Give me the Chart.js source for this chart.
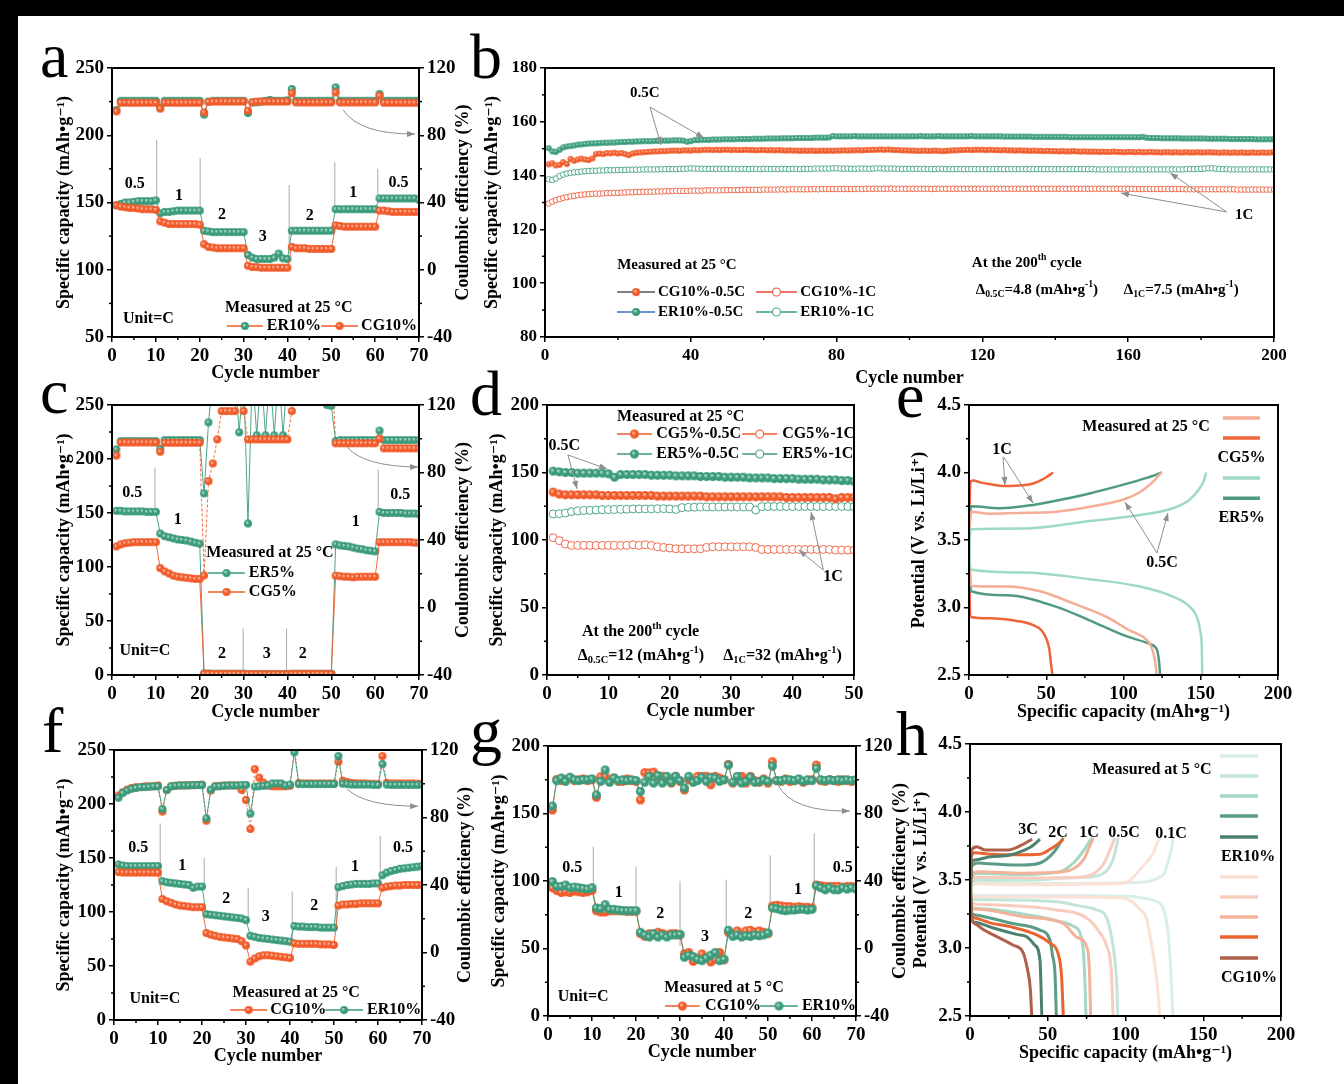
<!DOCTYPE html>
<html><head><meta charset="utf-8">
<script src="https://cdn.jsdelivr.net/npm/chart.js@4.4.1/dist/chart.umd.min.js"></script>
<style>
html,body{margin:0;padding:0;background:#fff;}
body{width:1344px;height:1084px;position:relative;overflow:hidden;}
.band{position:absolute;background:#000;}
canvas{position:absolute;}
.lt{position:absolute;font-family:'Liberation Serif','DejaVu Serif',serif;font-size:64px;line-height:1;color:#000;}
</style></head><body>
<div class="band" style="left:0;top:0;width:1344px;height:16px"></div>
<div class="band" style="left:0;top:0;width:18px;height:1084px"></div>
<div class="lt" style="left:40px;top:24px">a</div>
<div class="lt" style="left:470px;top:25px">b</div>
<div class="lt" style="left:40px;top:360px">c</div>
<div class="lt" style="left:470px;top:362px">d</div>
<div class="lt" style="left:896px;top:364px">e</div>
<div class="lt" style="left:42px;top:699px">f</div>
<div class="lt" style="left:470px;top:699px">g</div>
<div class="lt" style="left:896px;top:702px">h</div>
<script>
// ---------------- DATA ----------------
// Panel a: rate capability at 25 °C (ER10% vs CG10%)
const a_ER_cap=[148,149,150,150,150.5,151,151,151,151,151.5,142,143,143,143.5,144,144,144,144,144,144,129,128.5,128,128,128,128,128,128,128,128,111,109,108,108,108,108,109,112,108.5,108,129,129,129,129,129,129,129,129,129,129,145,145,145,145,145,145,145,145,145,145,153,153,153,153,153,153,153,153,153,152];
const a_CG_cap=[148,147,146.5,146,146,145.5,145,145,145,144.5,136,135,134,134,134,134,134,134,134,133.5,119,117,116.5,116,116,116,116,116,116,116,103,102,102,101.5,101.5,101.5,101.5,101.5,101.5,101.5,117,116,116,116,115.5,115.5,115.5,115.5,115.5,115.5,133,132.5,132,132,132,132,132,132,132,132,144,144,143.5,143,143,143,143,143,143,143];
const a_ER_ce=[95,100.5,100.5,100.5,100.5,100.5,100.5,100.5,100.5,100.5,96.5,100.5,100.5,100.5,100.5,100.5,100.5,100.5,100.5,100.5,92.3,100,100.5,100.5,100.5,100.5,100.5,100.5,100.5,100.5,93.2,99.5,99.6,100,100.5,101,100.5,100.5,100.5,100.8,107.5,100.5,100.5,100.5,100.5,100.5,100.5,100.5,100.5,100.5,108.5,100.5,100.5,100.5,100.5,100.5,100.5,100.5,100.5,100.5,104.5,100.5,100.5,100.5,100.5,100.5,100.5,100.5,100.5,100.5];
const a_CG_ce=[94.2,99.3,99.3,99.3,99.3,99.3,99.3,99.3,99.3,99.3,95.8,99.3,99.3,99.3,99.3,99.3,99.3,99.3,99.3,99.3,93.6,99.8,100,100,100,100,100,100,100,100,94.6,99.6,100,100,100,100,100,100,100,100,105,99.5,99.5,99.5,99.5,99.5,99.5,99.5,99.5,99.5,105.5,99.5,99.5,99.5,99.5,99.5,99.5,99.5,99.5,99.5,103.5,99.3,99.3,99.3,99.3,99.3,99.3,99.3,99.3,99.3];
// Panel b: 200 cycles
const b_CG05=[144.2,144.6,143.8,144.0,145.0,144.3,146.2,145.5,146.0,146.3,146.0,145.8,146.4,148.0,148.2,148.0,148.4,148.3,148.5,148.2,148.4,148.0,147.6,148.2,148.5,148.6,148.7,148.8,148.9,149.0,149.0,149.1,149.1,149.2,149.3,149.3,149.2,149.4,149.4,149.3,149.5,149.4,149.5,149.6,149.6,149.5,149.6,149.5,149.6,149.6,149.5,149.6,149.5,149.5,149.6,149.5,149.5,149.4,149.5,149.5,149.4,149.5,149.4,149.5,149.4,149.3,149.4,149.3,149.3,149.2,149.3,149.2,149.3,149.2,149.2,149.3,149.2,149.3,149.2,149.3,149.3,149.4,149.3,149.4,149.4,149.5,149.4,149.5,149.5,149.6,149.6,149.7,149.6,149.7,149.6,149.5,149.5,149.4,149.4,149.3,149.3,149.2,149.2,149.3,149.2,149.2,149.3,149.2,149.1,149.2,149.3,149.4,149.4,149.5,149.5,149.6,149.5,149.6,149.6,149.6,149.5,149.6,149.5,149.5,149.4,149.5,149.4,149.4,149.3,149.4,149.3,149.3,149.2,149.3,149.2,149.2,149.1,149.2,149.1,149.1,149.0,149.1,149.0,149.0,149.1,149.0,148.9,149.0,148.9,148.9,148.9,148.8,148.9,148.8,148.8,148.9,148.8,148.8,148.7,148.8,148.8,148.7,148.8,148.7,148.7,148.8,148.7,148.7,148.6,148.7,148.7,148.6,148.7,148.6,148.6,148.7,148.6,148.6,148.7,148.6,148.6,148.7,148.6,148.6,148.5,148.6,148.6,148.5,148.6,148.5,148.6,148.5,148.5,148.6,148.5,148.5,148.6,148.5,148.6,148.7];
const b_ER05=[150.2,149.0,148.8,149.6,150.5,150.8,151.0,151.2,151.5,151.6,151.8,151.9,152.0,152.0,152.1,152.2,152.2,152.3,152.3,152.4,152.5,152.5,152.6,152.6,152.7,152.7,152.8,152.8,152.8,152.9,152.9,153.0,153.0,153.0,153.1,153.1,153.1,153.0,152.6,152.8,153.2,153.2,153.3,153.3,153.3,153.4,153.4,153.4,153.5,153.5,153.5,153.5,153.6,153.6,153.6,153.6,153.7,153.7,153.7,153.7,153.8,153.8,153.8,153.8,153.9,153.9,153.9,153.9,154.0,154.0,154.0,154.0,154.0,154.1,154.1,154.1,154.1,154.2,154.7,154.6,154.6,154.6,154.6,154.6,154.7,154.6,154.6,154.6,154.6,154.6,154.6,154.6,154.6,154.6,154.6,154.6,154.6,154.6,154.6,154.6,154.6,154.6,154.7,154.6,154.6,154.6,154.6,154.7,154.6,154.6,154.6,154.6,154.6,154.6,154.6,154.6,154.7,154.6,154.6,154.6,154.6,154.6,154.6,154.6,154.6,154.5,154.5,154.5,154.5,154.5,154.5,154.5,154.5,154.4,154.4,154.4,154.4,154.4,154.4,154.4,154.4,154.4,154.4,154.3,154.3,154.3,154.3,154.3,154.3,154.3,154.3,154.3,154.3,154.3,154.3,154.3,154.3,154.3,154.3,154.3,154.3,154.3,154.3,154.4,154.1,154.0,154.0,154.0,153.9,153.9,153.9,153.9,153.9,153.9,153.8,153.8,153.8,153.8,153.8,153.8,153.8,153.7,153.7,153.7,153.7,153.7,153.7,153.6,153.6,153.6,153.6,153.6,153.6,153.6,153.5,153.5,153.5,153.5,153.5,153.5,153.5];
const b_CG1=[129.6,130.3,130.9,131.3,131.7,132.0,132.3,132.5,132.7,132.9,133.0,133.1,133.2,133.3,133.3,133.4,133.5,133.5,133.6,133.6,133.7,133.7,133.8,133.8,133.9,133.9,134.0,134.0,134.0,134.1,134.1,134.1,134.2,134.2,134.2,134.3,134.3,134.3,134.3,134.4,134.4,134.4,134.4,134.5,134.5,134.5,134.5,134.5,134.6,134.6,134.6,134.6,134.6,134.7,134.7,134.7,134.7,134.7,134.7,134.8,134.8,134.8,134.8,134.8,134.9,134.8,134.9,134.9,134.9,134.9,134.9,134.9,134.9,135.0,134.9,135.0,135.0,135.0,135.0,135.0,135.0,135.0,135.0,135.0,135.0,135.1,135.0,135.1,135.1,135.1,135.1,135.1,135.1,135.1,135.2,135.1,135.1,135.1,135.1,135.1,135.1,135.1,135.1,135.1,135.1,135.0,135.1,135.1,135.1,135.1,135.1,135.1,135.1,135.1,135.1,135.1,135.1,135.1,135.1,135.1,135.1,135.1,135.1,135.1,135.1,135.1,135.1,135.1,135.1,135.1,135.1,135.1,135.1,135.1,135.1,135.1,135.1,135.1,135.1,135.1,135.1,135.1,135.1,135.1,135.1,135.1,135.1,135.1,135.1,135.1,135.1,135.1,135.1,135.1,135.1,135.1,135.1,135.1,135.1,135.1,135.1,135.0,135.0,135.0,135.0,135.0,135.0,135.0,135.0,135.0,135.0,135.0,135.0,135.0,135.0,134.9,134.9,134.9,134.9,134.9,134.9,134.9,134.9,134.9,134.9,134.9,134.9,134.9,134.9,134.8,134.8,134.8,134.8,134.8,134.8,134.8,134.8,134.8,134.8,134.8];
const b_ER1=[138.6,138.4,138.9,139.8,140.4,140.8,141.0,141.2,141.3,141.5,141.6,141.7,141.8,141.8,141.9,141.9,142.0,142.0,142.0,142.1,142.1,142.1,142.2,142.2,142.2,142.2,142.3,142.3,142.3,142.3,142.3,142.4,142.4,142.4,142.4,142.4,142.5,142.5,142.6,142.7,142.6,142.6,142.5,142.5,142.5,142.5,142.5,142.5,142.5,142.5,142.5,142.5,142.4,142.5,142.5,142.4,142.5,142.5,142.4,142.5,142.5,142.4,142.5,142.4,142.5,142.5,142.4,142.5,142.5,142.4,142.5,142.5,142.5,142.6,142.6,142.6,142.6,142.6,142.7,142.7,142.6,142.6,142.6,142.5,142.5,142.6,142.6,142.6,142.5,142.6,142.7,142.7,142.6,142.6,142.6,142.6,142.5,142.5,142.5,142.5,142.5,142.5,142.5,142.5,142.4,142.4,142.4,142.5,142.5,142.4,142.4,142.4,142.4,142.4,142.4,142.4,142.4,142.4,142.4,142.4,142.4,142.4,142.4,142.4,142.4,142.4,142.4,142.4,142.4,142.4,142.4,142.4,142.4,142.4,142.4,142.4,142.4,142.4,142.4,142.4,142.4,142.4,142.4,142.4,142.4,142.4,142.4,142.4,142.4,142.4,142.3,142.3,142.3,142.3,142.3,142.3,142.3,142.3,142.3,142.3,142.3,142.3,142.3,142.3,142.3,142.3,142.3,142.3,142.3,142.3,142.3,142.3,142.3,142.3,142.3,142.4,142.4,142.4,142.5,142.5,142.6,142.7,142.7,142.6,142.5,142.4,142.4,142.3,142.3,142.3,142.3,142.3,142.3,142.3,142.3,142.3,142.3,142.3,142.3,142.3];
// Panel c: ER5% vs CG5%
const c_ER_cap=[152,152,151.5,151.5,151.5,151.5,151.5,151,151,151,131,128.5,127.5,126.5,125.5,125,124.5,123.5,122.5,121.5,1.5,1.5,1.2,1.2,1.2,1.2,1.2,1.2,1.2,1.2,1,1,1,1,1,1,1,1,1,1,1.2,1.2,1.2,1.2,1.2,1.2,1.2,1.2,1.2,1.2,121,120,119.5,119,118,117,116.5,115.5,115,114.5,151,150,150,150,150,150,149.5,149.5,149.5,149];
const c_CG_cap=[119,121,122,122.5,123,123,123,123,123,123,99,96,94,92,91,90.5,90,89.5,89,89,1,1,1,1,1,1,1,1,1,1,0.8,0.8,0.8,0.8,0.8,0.8,0.8,0.8,0.8,0.8,1,1,1,1,1,1,1,1,1,1,92,91.5,91,91,90.5,91,91,91,91,91,123,123,123,123,123,123,123,123,122.5,122.5];
const c_ER_ce=[93.7,98.6,98.6,98.6,98.6,98.6,98.6,98.6,98.6,98.6,94,99.2,99.2,99.2,99.2,99.2,99.2,99.2,99.2,99.2,67.6,109.7,135,150,150,150,150,140,103.8,140,49.8,140,102,140,102,140,102,140,102,140,150,150,150,150,150,150,150,150,120,119.5,98.6,99.2,99.2,99.2,99.2,99.2,99.2,99.2,99.2,99.2,104.8,99.2,99.2,99.2,99.2,99.2,99.2,99.2,99.2,99.2];
const c_CG_ce=[90,97.8,97.8,97.8,97.8,97.8,97.8,97.8,97.8,97.8,92.3,97.6,97.6,97.6,97.6,97.6,97.6,97.6,97.6,97.6,19,74.9,85.4,99.6,116.4,116.4,116.4,116.4,150,116.4,99.6,99.6,99.6,99.6,99.6,99.6,99.6,99.6,99.6,99.6,116.4,150,150,150,150,150,150,150,150,150,97.3,97.3,97.3,97.3,97.3,97.3,97.3,97.3,97.3,97.3,100,94.3,94.3,94.3,94.3,94.3,94.3,94.3,94.3,94.3];
// Panel d: 50 cycles
const d_ER05=[151,150.5,150,150,149.5,149.5,149.5,149.5,149.5,149,146.5,148.5,148.5,148.5,148.5,148.5,148,148,148,148,147.5,147.5,147.5,147.5,147,147,147,147,146.5,146.5,146.5,146.5,146,146,146,146,145.5,145.5,145.5,145.5,145,145,145,145,144.5,144.5,144.5,144,144,143.5];
const d_CG05=[135.5,134,133.5,133.5,133.5,133.5,133.5,133.5,133,133,133,133,133,133,133,133,133,132.5,132.5,132.5,132.5,132.5,132.5,132.5,132.5,132,132,132,132,132,132,132,132,132,132,132,132,132,131.5,131.5,131.5,131.5,131.5,131.5,131.5,131.5,130.5,131.5,131.5,131.5];
const d_ER1=[119.3,119.5,120,121,121.5,121.8,122,122.2,122.4,122.5,122.6,122.7,122.8,123,123,123,123,123.2,123.2,123,122.6,124,124.2,124.3,124.5,124.5,124.5,124.5,124.5,124.5,124.5,124.5,124.5,122.2,124.7,124.8,124.8,124.8,124.8,124.8,124.8,124.8,124.8,124.8,124.8,124.8,124.8,124.8,124.8,124.7];
const d_CG1=[101.7,99.5,97,96,96,96,96,96,96,96,96,96,96,96.5,96,96.5,96,95,94.5,94,93.5,93.5,93.5,93.5,93.5,94.5,95,95,95,95,95,95,95,94.5,93,93,93,93,93,93,93,93,93,93,93,93,92.5,92.5,92.5,92.5];
// Panel e: voltage profiles [capacity, potential]
const e_CG1_chg=[[0,2.95],[0.4,3.7],[1,3.93],[2.6,3.94],[8,3.925],[13,3.915],[23,3.90],[35,3.905],[42,3.92],[46,3.94],[50,3.965],[54.5,4.0]];
const e_CG1_dis=[[0,3.93],[0.4,3.1],[1,2.93],[13,2.92],[31,2.90],[41.5,2.87],[47,2.83],[50,2.77],[52,2.69],[53,2.59],[54,2.5]];
const e_CG05_chg=[[0,3.15],[0.5,3.6],[1.5,3.71],[13,3.695],[30,3.70],[56.6,3.71],[80,3.75],[100,3.80],[110,3.85],[119,3.93],[123.7,3.99],[124.5,4.0]];
const e_CG05_dis=[[0,3.7],[0.5,3.3],[1.5,3.16],[24,3.155],[46,3.12],[67.5,3.03],[89,2.93],[104,2.83],[114,2.77],[118,2.71],[120.5,2.6],[121.5,2.5]];
const e_ER1_chg=[[0,3.1],[0.5,3.6],[1.5,3.75],[20,3.735],[41.5,3.76],[60,3.80],[78,3.845],[100,3.91],[115,3.96],[124.8,4.0]];
const e_ER1_dis=[[0,3.74],[0.5,3.3],[1.5,3.12],[24,3.09],[56.6,3.005],[78,2.905],[100,2.795],[117,2.73],[121.5,2.69],[123,2.6],[123.7,2.5]];
const e_ER05_chg=[[0,3.27],[0.5,3.5],[1.5,3.58],[35,3.585],[78,3.64],[110.7,3.685],[132,3.735],[143,3.80],[148.5,3.87],[152,3.94],[153.5,4.0]];
const e_ER05_dis=[[0,3.58],[0.5,3.35],[1.5,3.28],[35,3.26],[78,3.21],[110.7,3.155],[132,3.08],[143,3.005],[147.5,2.93],[149.6,2.83],[150.7,2.69],[151,2.5]];
// Panel f: ER10% vs CG10% at 25 °C
const f_CG_cap=[137,136.5,136.5,136.5,136.5,136.5,136.5,136.5,136.5,136.5,112,110,108.5,107,106,105.5,105,104.5,104.5,104.5,80.5,79,78,77,76.5,76,75.5,75,73,69,54,57,59,60,60,59.5,59,58.5,58,57.5,71,70.5,70.5,70.5,70.5,70.5,70,70,70,69.5,106,107,107,107.5,107.5,108,108,108,108,108,122.5,123.5,124,124.5,124.5,125,125,125,125,125];
const f_ER_cap=[144,143,142.5,142.5,142.5,142.5,142.5,142.5,142.5,142.5,128.5,127.5,127,126.5,126,125.5,125,122.5,123.5,123.5,98,97.5,97,96.5,96,95.5,95,94.5,94,92.5,78,77,76,75.5,75,74.5,74,73.5,73,72.5,87,86.5,86.5,86,86,86,85.5,85.5,85.5,85.5,123,124,125,125.5,126,126,126,126,126.5,126.5,134,136.5,138,139,140,140.5,141,141.5,142,142.5];
const f_CG_ce=[93,95,96.5,97.5,98,98,98.5,98.5,98.5,99,83.5,96.3,98.5,98.8,99,99,99.2,99.2,99.3,99.5,78.1,96,98.5,98.8,99,99,99,99,96.3,90.4,73.2,108.7,103.6,100.6,99,98.5,98.5,98.5,98.5,98.8,121,100.5,100.2,100.2,100.2,100.2,100.2,100.2,100.2,100.2,113,101.8,101,100.5,100.3,100.2,100.2,100,100,99.8,116.4,100.5,100.2,100.2,100.2,100.2,100.2,100.2,100,100];
const f_ER_ce=[91.7,94.5,96,97,97.5,98,98,98.2,98.5,98.5,85,96.3,98.5,98.8,99,99,99,99.2,99.2,99.2,79.5,96.5,98.5,98.5,98.8,99,99,99,99.2,99.3,82.3,98.3,98.5,98.8,99,100.2,100.2,100.2,99,99.5,118.6,99.8,99.8,99.8,99.8,99.8,99.8,99.8,99.8,99.8,116.4,100,99.8,99.5,99.5,99.5,99.5,99.5,99.3,99.3,111.7,99.5,99.3,99.3,99.3,99.3,99.3,99.3,99.3,99.3];
// Panel g: measured at 5 °C
const g_CG_cap=[95,93,91.5,92,91.5,92.5,92,91.5,92,93,78,77,77,78,78,78,78,77.5,77.5,77.5,61,59,61,60,62,61,60,61,61,60,46,47,40.5,42,46,43,40,42,47,41.5,62,61,63,60,63,63.5,62,63,62,61,81.5,82,81.5,81,81,80.5,81,80.5,80.5,80,97,96.5,96,96,96,96,95.5,96,96,95.5];
const g_ER_cap=[99.5,96,96,97,95,95.5,95,94.5,94,95,80,79.5,82.5,79,79,78.5,78,78,78,78,62,60,58.5,61,58.5,60,58.5,60,60,60.5,43.5,45,44,42,41,43,45,47,41,42,63.5,59,60,58.5,59.5,59,60,59.5,60,61.5,80,79.5,78.5,78,78.5,78.5,79,79,78.5,79,96.5,95,93.5,95,93.5,93.5,95,94,95,94];
const g_CG_ce=[82.1,100.2,99.5,100,101,99.5,100,100.5,99.5,100,89.6,101.8,102,99,101,99,99,100.5,99.5,99,88,104.2,104,104.5,100,102,100.5,98,102,99,93.9,100,99,102,102,102,97,102,101,100,109.1,98,100,102,98,102,99.5,98.5,100.5,98,110.7,99.5,99,100.5,99,99.5,100,98.5,99.5,100,108.7,99.5,99,100,99.5,99,100,99.5,99,99.5];
const g_ER_ce=[84.4,99.5,101,99,101.5,100,99.5,100,100,100.5,91,99,105.8,98.5,101,99.5,100,99.5,100,99.5,93,98.5,102,98,102.5,98,102,98.5,102,99.5,95,102,98.5,99.5,101.5,99,101.5,101,99,100,108.7,98.5,102,98,99,101.5,98.5,99,100,99,108.1,99.5,99.5,100,100,99.5,100.5,99,100,99.5,106.8,100,99.5,100,99.5,100,99.5,100,99.5,100];
// Panel h: voltage profiles at 5 °C
const h_ER01_chg=[[0,3.25],[1,3.45],[3,3.49],[20,3.48],[60,3.475],[100,3.48],[115,3.49],[122,3.52],[125,3.55],[127,3.62],[129,3.7],[130.8,3.81]];
const h_ER01_dis=[[0,3.48],[1,3.40],[5,3.385],[60,3.385],[98.6,3.383],[110,3.37],[120,3.34],[124,3.30],[126,3.22],[127.5,3.10],[128.5,2.95],[129.5,2.75],[130.5,2.5]];
const h_CG01_chg=[[0,3.25],[1,3.44],[3,3.47],[40,3.465],[80,3.47],[100,3.48],[105,3.52],[111,3.6],[118,3.7],[120,3.76],[121.8,3.81]];
const h_CG01_dis=[[0,3.47],[1,3.39],[5,3.375],[60,3.375],[95,3.37],[103,3.35],[108,3.3],[113.6,3.21],[117,3.01],[120,2.77],[122.2,2.5]];
const h_ER05_chg=[[0,3.3],[1,3.48],[5,3.50],[40,3.50],[60,3.515],[81.5,3.53],[88,3.57],[92,3.65],[95.4,3.81]];
const h_ER05_dis=[[0,3.45],[1,3.36],[5,3.355],[55.7,3.34],[70,3.31],[81.5,3.28],[88,3.22],[91,3.08],[93.2,2.91],[94.5,2.7],[95,2.5]];
const h_CG05_chg=[[0,3.3],[1,3.5],[5,3.52],[40,3.515],[70,3.52],[80,3.55],[86,3.62],[90,3.72],[93.2,3.81]];
const h_CG05_dis=[[0,3.4],[1,3.33],[5,3.32],[55.7,3.28],[75,3.22],[83.6,3.11],[88,3.01],[91,2.81],[92,2.5]];
const h_ER1_chg=[[0,3.3],[1,3.52],[5,3.55],[34,3.54],[50,3.55],[60,3.57],[68.6,3.65],[75,3.75],[78.2,3.81]];
const h_ER1_dis=[[0,3.4],[1,3.30],[5,3.29],[34,3.25],[55.7,3.2],[66.5,3.16],[70.7,3.11],[73,2.96],[74,2.72],[74.6,2.5]];
const h_CG1_chg=[[0,3.3],[1,3.54],[5,3.56],[34,3.55],[60,3.56],[73,3.65],[77,3.75],[79.3,3.81]];
const h_CG1_dis=[[0,3.4],[1,3.29],[5,3.285],[34,3.23],[60,3.18],[68.6,3.08],[75,3.01],[76.7,2.86],[77.6,2.5]];
const h_ER2_chg=[[0,3.3],[1,3.6],[5,3.625],[12.9,3.62],[34,3.61],[45,3.625],[53.6,3.70],[60,3.81]];
const h_ER2_dis=[[0,3.5],[1,3.26],[3,3.243],[25.7,3.184],[45,3.132],[51.4,3.06],[53,2.95],[54.7,2.8],[55.5,2.5]];
const h_CG2_chg=[[0,3.3],[1,3.68],[3,3.70],[12.9,3.69],[30,3.685],[45,3.69],[52,3.73],[56,3.76],[60,3.80]];
const h_CG2_dis=[[0,3.5],[1,3.24],[3,3.22],[12.9,3.185],[25.7,3.157],[42.9,3.096],[51.4,3.035],[56.6,2.96],[58.9,2.79],[60,2.5]];
const h_ER3_chg=[[0,3.3],[1,3.63],[3,3.647],[12.9,3.67],[25.7,3.684],[35,3.72],[40,3.75],[45,3.80]];
const h_ER3_dis=[[0,3.6],[1,3.21],[3,3.19],[15,3.147],[30,3.10],[36.5,3.083],[41.8,3.02],[45,2.91],[46.2,2.5]];
const h_CG3_chg=[[0,3.3],[1,3.72],[4.3,3.745],[10,3.72],[23.6,3.72],[32,3.75],[40,3.80]];
const h_CG3_dis=[[0,3.6],[1,3.22],[3,3.18],[8,3.14],[15,3.096],[27.9,3.02],[34,2.97],[37,2.84],[38.8,2.7],[39.7,2.5]];

// ---------------- HELPERS ----------------
const FONT="'Liberation Serif','DejaVu Serif',serif";
const OR='#f15a29', TEAL='#3a9b7b';
const pts=(vals)=>vals.map((v,i)=>({x:i+1,y:v}));
const xy=(arr)=>arr.map(p=>({x:p[0],y:p[1]}));
function sphere(col,hi,r){const s=Math.ceil(2*r+2),c=document.createElement('canvas');c.width=c.height=s;const g=c.getContext('2d'),m=s/2;
 const gr=g.createRadialGradient(m-r*0.3,m-r*0.3,0,m,m,r);gr.addColorStop(0,hi);gr.addColorStop(0.5,col);gr.addColorStop(1,col);
 g.fillStyle=gr;g.beginPath();g.arc(m,m,r,0,2*Math.PI);g.fill();return c;}
const sO={},sT={};
[3,4,4.5].forEach(r=>{sO[r]=sphere(OR,'#ffd6c4',r);sT[r]=sphere(TEAL,'#cfeee2',r);});
function fnt(sz){return 'bold '+sz+'px '+FONT;}
function rich(ctx,x,y,s,sz,align){
 const segs=typeof s==='string'?[[s,0]]:s;let w=0;
 segs.forEach(([t,m])=>{ctx.font=fnt(m?sz*0.65:sz);w+=ctx.measureText(t).width;});
 let cx=align==='left'?x:align==='right'?x-w:x-w/2;
 ctx.textBaseline='middle';ctx.textAlign='left';ctx.fillStyle='#000';
 segs.forEach(([t,m])=>{ctx.font=fnt(m?sz*0.65:sz);const dy=m===1?-sz*0.35:m===-1?sz*0.28:0;ctx.fillText(t,cx,y+dy);cx+=ctx.measureText(t).width;});
}
function arrow(ctx,P){
 ctx.strokeStyle='#8e8e8e';ctx.fillStyle='#8e8e8e';ctx.lineWidth=1;ctx.beginPath();ctx.moveTo(P[0][0],P[0][1]);
 if(P.length===3)ctx.quadraticCurveTo(P[1][0],P[1][1],P[2][0],P[2][1]);else ctx.lineTo(P[1][0],P[1][1]);ctx.stroke();
 const e=P[P.length-1],s=P[P.length-2],a=Math.atan2(e[1]-s[1],e[0]-s[0]),L=8,W=3;
 ctx.beginPath();ctx.moveTo(e[0],e[1]);
 ctx.lineTo(e[0]-L*Math.cos(a)+W*Math.sin(a),e[1]-L*Math.sin(a)-W*Math.cos(a));
 ctx.lineTo(e[0]-L*Math.cos(a)-W*Math.sin(a),e[1]-L*Math.sin(a)+W*Math.cos(a));ctx.closePath();ctx.fill();
}
function makeDeco(o){return{id:'deco',
 beforeDatasetsDraw(chart){const ctx=chart.ctx,X=v=>chart.scales.x.getPixelForValue(v),Y=v=>chart.scales.y.getPixelForValue(v);
  ctx.save();ctx.strokeStyle='#a0a0a0';ctx.lineWidth=0.9;
  (o.seps||[]).forEach(s=>{ctx.beginPath();ctx.moveTo(X(s[0]),Y(s[1]));ctx.lineTo(X(s[0]),Y(s[2]));ctx.stroke();});ctx.restore();},
 afterDatasetsDraw(chart){const ctx=chart.ctx,ca=chart.chartArea,X=v=>chart.scales.x.getPixelForValue(v),Y=v=>chart.scales.y.getPixelForValue(v);
  ctx.save();
  (o.arrows||[]).forEach(a=>arrow(ctx,a.map(p=>[X(p[0]),Y(p[1])])));
  ctx.strokeStyle='#000';ctx.lineWidth=2;ctx.strokeRect(ca.left,ca.top,ca.right-ca.left,ca.bottom-ca.top);
  ctx.lineWidth=1.5;
  Object.values(chart.scales).forEach(sc=>{const t=sc.ticks;for(let i=0;i<t.length-1;i++){const mv=(t[i].value+t[i+1].value)/2,p=sc.getPixelForValue(mv);ctx.beginPath();
   if(sc.position==='bottom'){ctx.moveTo(p,ca.bottom);ctx.lineTo(p,ca.bottom+3);}else if(sc.position==='left'){ctx.moveTo(ca.left,p);ctx.lineTo(ca.left-3,p);}else{ctx.moveTo(ca.right,p);ctx.lineTo(ca.right+3,p);}ctx.stroke();}});
  (o.lines||[]).forEach(l=>{ctx.strokeStyle=l.c;ctx.lineWidth=l.w||3.5;ctx.beginPath();ctx.moveTo(X(l.x1),Y(l.y));ctx.lineTo(X(l.x2),Y(l.y));ctx.stroke();});
  (o.legend||[]).forEach(l=>{const y=Y(l.y),x1=X(l.x1),x2=X(l.x2),mx=(x1+x2)/2;
   ctx.strokeStyle=l.line;ctx.lineWidth=1.5;ctx.beginPath();ctx.moveTo(x1,y);ctx.lineTo(x2,y);ctx.stroke();
   if(l.mk instanceof HTMLCanvasElement){ctx.drawImage(l.mk,mx-l.mk.width/2,y-l.mk.height/2);}
   else if(l.mk){ctx.fillStyle='#fff';ctx.strokeStyle=l.mk.c;ctx.lineWidth=1.2;ctx.beginPath();ctx.arc(mx,y,l.mk.r,0,2*Math.PI);ctx.fill();ctx.stroke();}
   rich(ctx,X(l.tx),y,l.label,l.sz||16,'left');});
  (o.texts||[]).forEach(t=>rich(ctx,X(t.x),Y(t.y),t.s,t.sz||16,t.al||'center'));
  if(o.rt){ctx.save();ctx.translate(ca.right+o.rt.d,(ca.top+ca.bottom)/2);ctx.rotate(-Math.PI/2);ctx.font=fnt(18);ctx.textAlign='center';ctx.textBaseline='middle';ctx.fillStyle='#000';ctx.fillText(o.rt.t,0,0);ctx.restore();}
  ctx.restore();}};}
function axis(pos,a,size){return{type:'linear',position:pos,min:a.min,max:a.max,
 afterFit:s=>{if(pos==='bottom')s.height=size;else s.width=size;},
 ticks:{stepSize:a.step,autoSkip:false,maxRotation:0,padding:3,color:'#000',font:{family:FONT,size:a.fs||19,weight:'bold'},callback:a.fmt||(v=>v)},
 grid:{display:true,drawOnChartArea:false,drawTicks:true,tickLength:5,color:'#000',lineWidth:1.5},
 border:{display:true,color:'#000',width:2},
 title:a.title?{display:true,text:a.title,padding:0,color:'#000',font:{family:FONT,size:18,weight:'bold'}}:{display:false}};}
function build(box,m,cfg){
 const cv=document.createElement('canvas');const W=box.r-box.l+m.l+m.r,H=box.b-box.t+m.t+m.b;
 cv.width=W;cv.height=H;cv.style.left=(box.l-m.l)+'px';cv.style.top=(box.t-m.t)+'px';cv.style.width=W+'px';cv.style.height=H+'px';
 document.body.appendChild(cv);
 const scales={x:axis('bottom',cfg.x,m.b),y:axis('left',cfg.y,m.l)};
 if(cfg.y2)scales.y2=axis('right',cfg.y2,m.r);
 return new Chart(cv,{type:'scatter',data:{datasets:cfg.ds},
  options:{responsive:false,animation:false,devicePixelRatio:1,
   layout:{padding:{left:0,top:m.t,right:cfg.y2?0:m.r,bottom:0}},
   plugins:{legend:{display:false},tooltip:{enabled:false}},scales},
  plugins:[makeDeco(cfg.deco||{})]});}
function sph(data,img,col,axisId,dash){return{data,pointStyle:img,pointRadius:img.width/2,showLine:true,borderColor:col,borderWidth:0.9,borderDash:dash||[],yAxisID:axisId||'y'};}
function hol(data,col,r){return{data,pointStyle:'circle',pointRadius:r,pointBackgroundColor:'#fff',pointBorderColor:col,pointBorderWidth:1,showLine:true,borderColor:col,borderWidth:0.8,yAxisID:'y'};}
function crv(arr,col,w){return{data:xy(arr),showLine:true,pointRadius:0,borderColor:col,borderWidth:w||2.5,cubicInterpolationMode:'monotone',yAxisID:'y'};}
const CAP='Specific capacity (mAh•g⁻¹)', CE='Coulombic efficiency (%)', CYC='Cycle number', POT='Potential (V vs. Li/Li⁺)';
const RX={min:0,max:70,step:10,title:CYC}, CEY={min:-40,max:120,step:40};
const f1=v=>v.toFixed(1);

// ---------------- PANEL a ----------------
build({l:112,t:68,r:419,b:337},{l:58,r:55,t:20,b:47},{
 x:RX,y:{min:50,max:250,step:50,title:CAP},y2:CEY,
 ds:[sph(pts(a_CG_ce),sO[4],OR,'y2'),sph(pts(a_ER_ce),sT[4],TEAL,'y2'),sph(pts(a_CG_cap),sO[4],OR),sph(pts(a_ER_cap),sT[4],TEAL)],
 deco:{rt:{t:CE,d:44},
  seps:[[10.2,196.5,150],[20.1,183,145],[40.4,163,112],[50.8,180,145],[60.6,175,152]],
  arrows:[[[52.7,218.8],[56.5,200.5],[69.1,201]]],
  texts:[{x:5.2,y:163.8,s:'0.5'},{x:15.3,y:154.8,s:'1'},{x:25.1,y:140.7,s:'2'},{x:34.4,y:124.3,s:'3'},{x:45.1,y:140,s:'2'},{x:55,y:157,s:'1'},{x:65.3,y:164.5,s:'0.5'},
   {x:8.3,y:63.4,s:'Unit=C'},{x:40.3,y:71.6,s:'Measured at 25 °C'}],
  legend:[{x1:26.2,x2:34.4,y:58.2,line:OR,mk:sT[4],tx:35.3,label:'ER10%'},{x1:47.7,x2:56.1,y:58.2,line:OR,mk:sO[4],tx:56.8,label:'CG10%'}]}});

// ---------------- PANEL b ----------------
build({l:545,t:68,r:1274,b:337},{l:63,r:30,t:20,b:52},{
 x:{min:0,max:200,step:40,title:CYC,fs:17},y:{min:80,max:180,step:20,title:CAP,fs:17},
 ds:[sph(pts(b_ER05),sT[3],'#3a6fc0'),sph(pts(b_CG05),sO[3],'#555'),hol(pts(b_ER1),'#52a98a',2.8),hol(pts(b_CG1),'#ef6a4c',2.8)],
 deco:{
  arrows:[[[28.8,165.5],[43.6,154]],[[28.8,165.5],[31.8,151.4]],[[187,126.5],[171.5,141]],[[187,126.5],[158,133.5]]],
  texts:[{x:27.4,y:170.7,s:'0.5C',sz:15},{x:191.8,y:125.4,s:'1C',sz:15},{x:19.8,y:106.8,s:'Measured at 25 °C',al:'left',sz:15},
   {x:117.1,y:107.5,s:[['At the 200',0],['th',1],[' cycle',0]],al:'left',sz:15},
   {x:118.2,y:97.5,s:[['Δ',0],['0.5C',-1],['=4.8 (mAh•g',0],['-1',1],[')',0]],al:'left',sz:15},
   {x:158.8,y:97.5,s:[['Δ',0],['1C',-1],['=7.5 (mAh•g',0],['-1',1],[')',0]],al:'left',sz:15}],
  legend:[{x1:19.8,x2:30.2,y:96.7,line:'#555',mk:sO[4],tx:31,label:'CG10%-0.5C',sz:15},{x1:57.9,x2:69.1,y:96.7,line:'#e8453c',mk:{c:'#ef6a4c',r:4},tx:70,label:'CG10%-1C',sz:15},
   {x1:19.8,x2:30.2,y:89.3,line:'#3a6fc0',mk:sT[4],tx:31,label:'ER10%-0.5C',sz:15},{x1:57.9,x2:69.1,y:89.3,line:'#3aa07c',mk:{c:'#52a98a',r:4},tx:70,label:'ER10%-1C',sz:15}]}});

// ---------------- PANEL c ----------------
build({l:112,t:405,r:419,b:675},{l:58,r:55,t:20,b:48},{
 x:RX,y:{min:0,max:250,step:50,title:CAP},y2:CEY,
 ds:[sph(pts(c_CG_ce),sO[4],OR,'y2',[3,2]),sph(pts(c_ER_ce),sT[4],TEAL,'y2'),sph(pts(c_CG_cap),sO[4],OR),sph(pts(c_ER_cap),sT[4],TEAL)],
 deco:{rt:{t:CE,d:44},
  seps:[[9.8,191.7,151],[29.9,43,1],[39.8,43,1],[60.7,190,152]],
  arrows:[[[53.6,211],[57.5,193],[69.8,192.6]]],
  texts:[{x:4.6,y:168.5,s:'0.5'},{x:15,y:143.5,s:'1'},{x:25.1,y:19.4,s:'2'},{x:35.3,y:19.4,s:'3'},{x:43.5,y:19.4,s:'2'},{x:55.6,y:141.7,s:'1'},{x:65.7,y:166.7,s:'0.5'},
   {x:7.5,y:22.2,s:'Unit=C'},{x:36,y:113,s:'Measured at 25 °C'}],
  legend:[{x1:21.9,x2:30.3,y:94.4,line:TEAL,mk:sT[4],tx:31.2,label:'ER5%'},{x1:21.9,x2:30.3,y:76.9,line:OR,mk:sO[4],tx:31.2,label:'CG5%'}]}});

// ---------------- PANEL d ----------------
build({l:547,t:405,r:854,b:675},{l:60,r:25,t:20,b:47},{
 x:{min:0,max:50,step:10,title:CYC},y:{min:0,max:200,step:50,title:CAP},
 ds:[sph(pts(d_ER05),sT[4.5],TEAL),sph(pts(d_CG05),sO[4.5],OR),hol(pts(d_ER1),'#4fa585',4),hol(pts(d_CG1),'#ef6a4c',4)],
 deco:{
  arrows:[[[3.4,163],[9.8,152.6]],[[3.4,163],[4.9,137.8]],[[45,77.8],[43,120.7]],[[45,77.8],[41,92.6]]],
  texts:[{x:2.8,y:169.6,s:'0.5C'},{x:46.6,y:72.6,s:'1C'},{x:11.4,y:191,s:'Measured at 25 °C',al:'left'},
   {x:5.7,y:31.9,s:[['At the 200',0],['th',1],[' cycle',0]],al:'left'},
   {x:5,y:14,s:[['Δ',0],['0.5C',-1],['=12 (mAh•g',0],['-1',1],[')',0]],al:'left'},
   {x:28.7,y:14,s:[['Δ',0],['1C',-1],['=32 (mAh•g',0],['-1',1],[')',0]],al:'left'}],
  legend:[{x1:11.4,x2:17.1,y:178.5,line:OR,mk:sO[4.5],tx:17.8,label:'CG5%-0.5C'},{x1:31.8,x2:37.5,y:178.5,line:OR,mk:{c:'#ef6a4c',r:4},tx:38.3,label:'CG5%-1C'},
   {x1:11.4,x2:17.1,y:163.7,line:TEAL,mk:sT[4.5],tx:17.8,label:'ER5%-0.5C'},{x1:31.8,x2:37.5,y:163.7,line:TEAL,mk:{c:'#4fa585',r:4},tx:38.3,label:'ER5%-1C'}]}});

// ---------------- PANEL e ----------------
const eC05='#f6ad95',eC1='#ee6436',eE05='#9ed9c4',eE1='#4f9a80';
build({l:969,t:405,r:1278,b:675},{l:60,r:30,t:20,b:48},{
 x:{min:0,max:200,step:50,title:'Specific capacity (mAh•g⁻¹)'},y:{min:2.5,max:4.5,step:0.5,title:POT,fmt:f1},
 ds:[crv(e_ER05_chg,eE05),crv(e_ER05_dis,eE05),crv(e_CG05_chg,eC05),crv(e_CG05_dis,eC05),crv(e_ER1_chg,eE1),crv(e_ER1_dis,eE1),crv(e_CG1_chg,eC1),crv(e_CG1_dis,eC1)],
 deco:{
  arrows:[[[22,4.115],[23.3,3.907]],[[22.5,4.115],[41.4,3.774]],[[121.7,3.404],[101,3.78]],[[121.7,3.404],[128.8,3.70]]],
  lines:[{x1:164.4,x2:188.3,y:4.404,c:eC05},{x1:164.4,x2:188.3,y:4.256,c:eC1},{x1:164.4,x2:188.3,y:3.959,c:eE05},{x1:164.4,x2:188.3,y:3.81,c:eE1}],
  texts:[{x:114.6,y:4.337,s:'Measured at 25 °C'},{x:176.4,y:4.107,s:'CG5%'},{x:176.4,y:3.663,s:'ER5%'},{x:21.4,y:4.167,s:'1C'},{x:125,y:3.33,s:'0.5C'}]}});

// ---------------- PANEL f ----------------
build({l:114,t:750,r:422,b:1020},{l:60,r:54,t:20,b:47},{
 x:RX,y:{min:0,max:250,step:50,title:CAP},y2:CEY,
 ds:[sph(pts(f_ER_ce),sT[4],TEAL,'y2'),sph(pts(f_CG_ce),sO[4],OR,'y2',[2,2]),sph(pts(f_CG_cap),sO[4],OR),sph(pts(f_ER_cap),sT[4],TEAL)],
 deco:{rt:{t:CE,d:43},
  seps:[[10.5,182,142],[20.5,150,123],[30.5,122.5,94],[40.5,119,72.5],[50.5,142,88],[60.5,170.7,128]],
  arrows:[[[53,213.9],[57,198],[69.1,198]]],
  texts:[{x:5.5,y:159,s:'0.5'},{x:15.5,y:142.6,s:'1'},{x:25.5,y:112,s:'2'},{x:34.5,y:95.4,s:'3'},{x:45.5,y:105.6,s:'2'},{x:54.8,y:141.7,s:'1'},{x:65.7,y:159,s:'0.5'},
   {x:9.3,y:19.4,s:'Unit=C'},{x:41.4,y:25,s:'Measured at 25 °C'}],
  legend:[{x1:26.4,x2:34.8,y:9.3,line:OR,mk:sO[4],tx:35.5,label:'CG10%'},{x1:48,x2:56.6,y:9.3,line:TEAL,mk:sT[4],tx:57.5,label:'ER10%'}]}});

// ---------------- PANEL g ----------------
build({l:548,t:746,r:856,b:1016},{l:59,r:55,t:20,b:47},{
 x:RX,y:{min:0,max:200,step:50,title:CAP},y2:CEY,
 ds:[sph(pts(g_ER_ce),sT[4.5],TEAL,'y2'),sph(pts(g_CG_ce),sO[4.5],OR,'y2'),sph(pts(g_ER_cap),sT[4.5],TEAL),sph(pts(g_CG_cap),sO[4.5],OR)],
 deco:{rt:{t:CE,d:44},
  seps:[[10.3,125.4,95.8],[20,110.6,80.7],[30,100,52],[40.5,101,58.6],[50.5,119,84.7],[60.5,135.3,81]],
  arrows:[[[52.3,171],[55.5,151],[68.6,151.9]]],
  texts:[{x:5.5,y:109.6,s:'0.5'},{x:16.1,y:91.1,s:'1'},{x:25.5,y:75.6,s:'2'},{x:35.7,y:58.5,s:'3'},{x:45.5,y:75.6,s:'2'},{x:56.8,y:93.3,s:'1'},{x:67,y:109.6,s:'0.5'},
   {x:8,y:14.1,s:'Unit=C'},{x:40,y:20.7,s:'Measured at 5 °C'}],
  legend:[{x1:26.6,x2:34.5,y:7.4,line:OR,mk:sO[4.5],tx:35.7,label:'CG10%'},{x1:48.2,x2:56.8,y:7.4,line:TEAL,mk:sT[4.5],tx:57.7,label:'ER10%'}]}});

// ---------------- PANEL h ----------------
const hE=['#d8eee6','#c2e5d8','#a3d8c3','#5a9c85','#4c8070'], hC=['#fbe1d6','#f8cdbd','#f4b29b','#e8652f','#b0604a'];
build({l:970,t:744,r:1281,b:1016},{l:59,r:30,t:20,b:48},{
 x:{min:0,max:200,step:50,title:'Specific capacity (mAh•g⁻¹)'},y:{min:2.5,max:4.5,step:0.5,title:POT,fmt:f1},
 ds:[crv(h_CG3_chg,hC[4],3),crv(h_CG3_dis,hC[4],3),crv(h_ER3_chg,hE[4],3),crv(h_ER3_dis,hE[4],3),
     crv(h_CG2_chg,hC[3],3),crv(h_CG2_dis,hC[3],3),crv(h_ER2_chg,hE[3],3),crv(h_ER2_dis,hE[3],3),
     crv(h_CG1_chg,hC[2],3),crv(h_CG1_dis,hC[2],3),crv(h_ER1_chg,hE[2],3),crv(h_ER1_dis,hE[2],3),
     crv(h_CG05_chg,hC[1],3),crv(h_CG05_dis,hC[1],3),crv(h_ER05_chg,hE[1],3),crv(h_ER05_dis,hE[1],3),
     crv(h_CG01_chg,hC[0],3),crv(h_CG01_dis,hC[0],3),crv(h_ER01_chg,hE[0],3),crv(h_ER01_dis,hE[0],3)],
 deco:{
  lines:[{x1:160.8,x2:185.2,y:4.412,c:hE[0]},{x1:160.8,x2:185.2,y:4.265,c:hE[1]},{x1:160.8,x2:185.2,y:4.118,c:hE[2]},{x1:160.8,x2:185.2,y:3.971,c:hE[3]},{x1:160.8,x2:185.2,y:3.816,c:hE[4]},
   {x1:160.8,x2:185.2,y:3.522,c:hC[0]},{x1:160.8,x2:185.2,y:3.375,c:hC[1]},{x1:160.8,x2:185.2,y:3.228,c:hC[2]},{x1:160.8,x2:185.2,y:3.081,c:hC[3]},{x1:160.8,x2:185.2,y:2.926,c:hC[4]}],
  texts:[{x:117,y:4.309,s:'Measured at 5 °C'},{x:178.8,y:3.669,s:'ER10%'},{x:179.4,y:2.779,s:'CG10%'},
   {x:37.3,y:3.868,s:'3C'},{x:56.6,y:3.846,s:'2C'},{x:76.5,y:3.846,s:'1C'},{x:99,y:3.846,s:'0.5C'},{x:129.3,y:3.838,s:'0.1C'}]}});
</script>
</body></html>
